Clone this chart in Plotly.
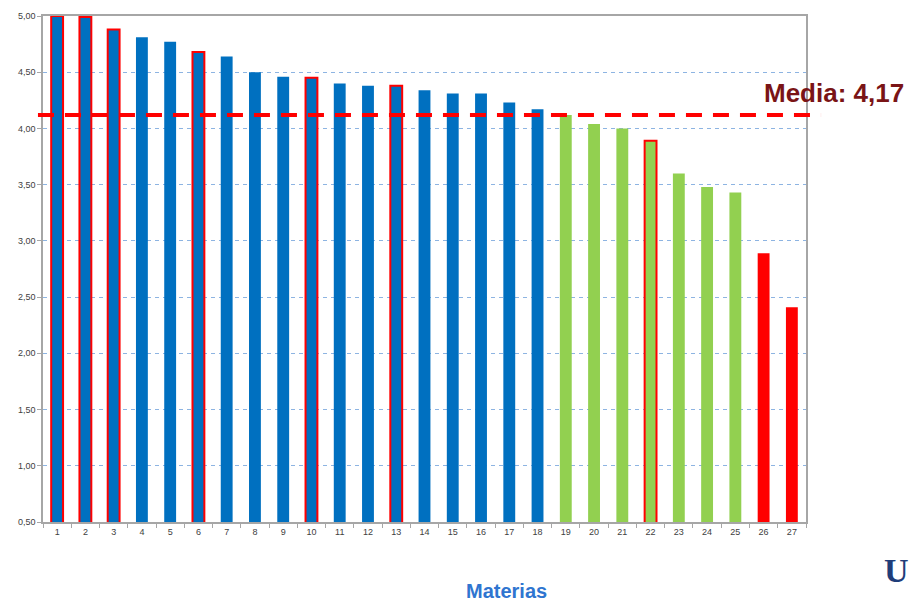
import plotly.graph_objects as go

materias = [str(i) for i in range(1, 28)]
valores = [5.00, 4.99, 4.88, 4.81, 4.77, 4.68, 4.64, 4.50, 4.46, 4.45,
           4.40, 4.38, 4.38, 4.34, 4.31, 4.31, 4.23, 4.17, 4.12, 4.04,
           4.00, 3.89, 3.60, 3.48, 3.43, 2.89, 2.41]
grupo = ["alto"] * 18 + ["medio"] * 7 + ["bajo"] * 2
destacadas = ["1", "2", "3", "6", "10", "13", "22"]
media_valor = 4.12
media_texto = "Media: 4,17"
y_ticks = [0.5, 1.0, 1.5, 2.0, 2.5, 3.0, 3.5, 4.0, 4.5, 5.0]

color_grupo = {"alto": "#0070C0", "medio": "#92D050", "bajo": "#FF0000"}
colores = [color_grupo[g] for g in grupo]
borde_color = ["#FF0000" if m in destacadas else "rgba(0,0,0,0)" for m in materias]
borde_ancho = [2 if m in destacadas else 0 for m in materias]

fig = go.Figure()
fig.add_trace(go.Bar(
    x=materias, y=valores,
    marker=dict(color=colores, line=dict(color=borde_color, width=borde_ancho)),
    width=0.42,
    showlegend=False,
))

fig.add_shape(type="line", xref="paper", yref="y",
              x0=-0.0066, x1=1.0197, y0=media_valor, y1=media_valor,
              line=dict(color="#FF0000", width=4, dash="16px,11px"),
              layer="above")

fig.add_annotation(text="<b>" + media_texto + "</b>", xref="paper", yref="paper",
                   x=0.942, y=0.848, xanchor="left", yanchor="middle",
                   showarrow=False,
                   font=dict(family="Liberation Sans, Arial", size=26, color="#7A1416"))

fig.add_annotation(text="<b>Materias</b>", xref="paper", yref="paper",
                   x=0.608, y=-0.136, xanchor="center", yanchor="middle",
                   showarrow=False,
                   font=dict(family="Liberation Sans, Arial", size=20, color="#2F75D0"))

fig.add_annotation(text="<b>U</b>", xref="paper", yref="paper",
                   x=1.137, y=-0.095, xanchor="right", yanchor="middle",
                   showarrow=False,
                   font=dict(family="Liberation Serif, Times New Roman", size=34, color="#1F3D7A"))

fig.update_layout(
    width=911, height=601,
    margin=dict(l=43, r=105, t=16, b=79),
    paper_bgcolor="white", plot_bgcolor="white",
    separators=",.",
    bargap=0.58,
    xaxis=dict(
        type="category",
        showline=True, linecolor="#A6A6A6", linewidth=1.5, mirror=True,
        ticks="outside", tickson="boundaries", ticklen=4, tickcolor="#A6A6A6",
        tickfont=dict(family="Liberation Sans, Arial", size=9, color="#404040"),
        showgrid=False,
    ),
    yaxis=dict(
        range=[0.5, 5.0],
        tickvals=y_ticks, tickformat=".2f",
        showline=True, linecolor="#A6A6A6", linewidth=1.5, mirror=True,
        ticks="outside", ticklen=4, tickcolor="#A6A6A6",
        tickfont=dict(family="Liberation Sans, Arial", size=9, color="#404040"),
        showgrid=True, gridcolor="#8DB4E2", gridwidth=1, griddash="4px,4px",
        zeroline=False,
    ),
)

fig.write_html("out.html", config={"displayModeBar": False},
               post_script="document.body.style.margin='0px';document.body.style.overflow='hidden';")
